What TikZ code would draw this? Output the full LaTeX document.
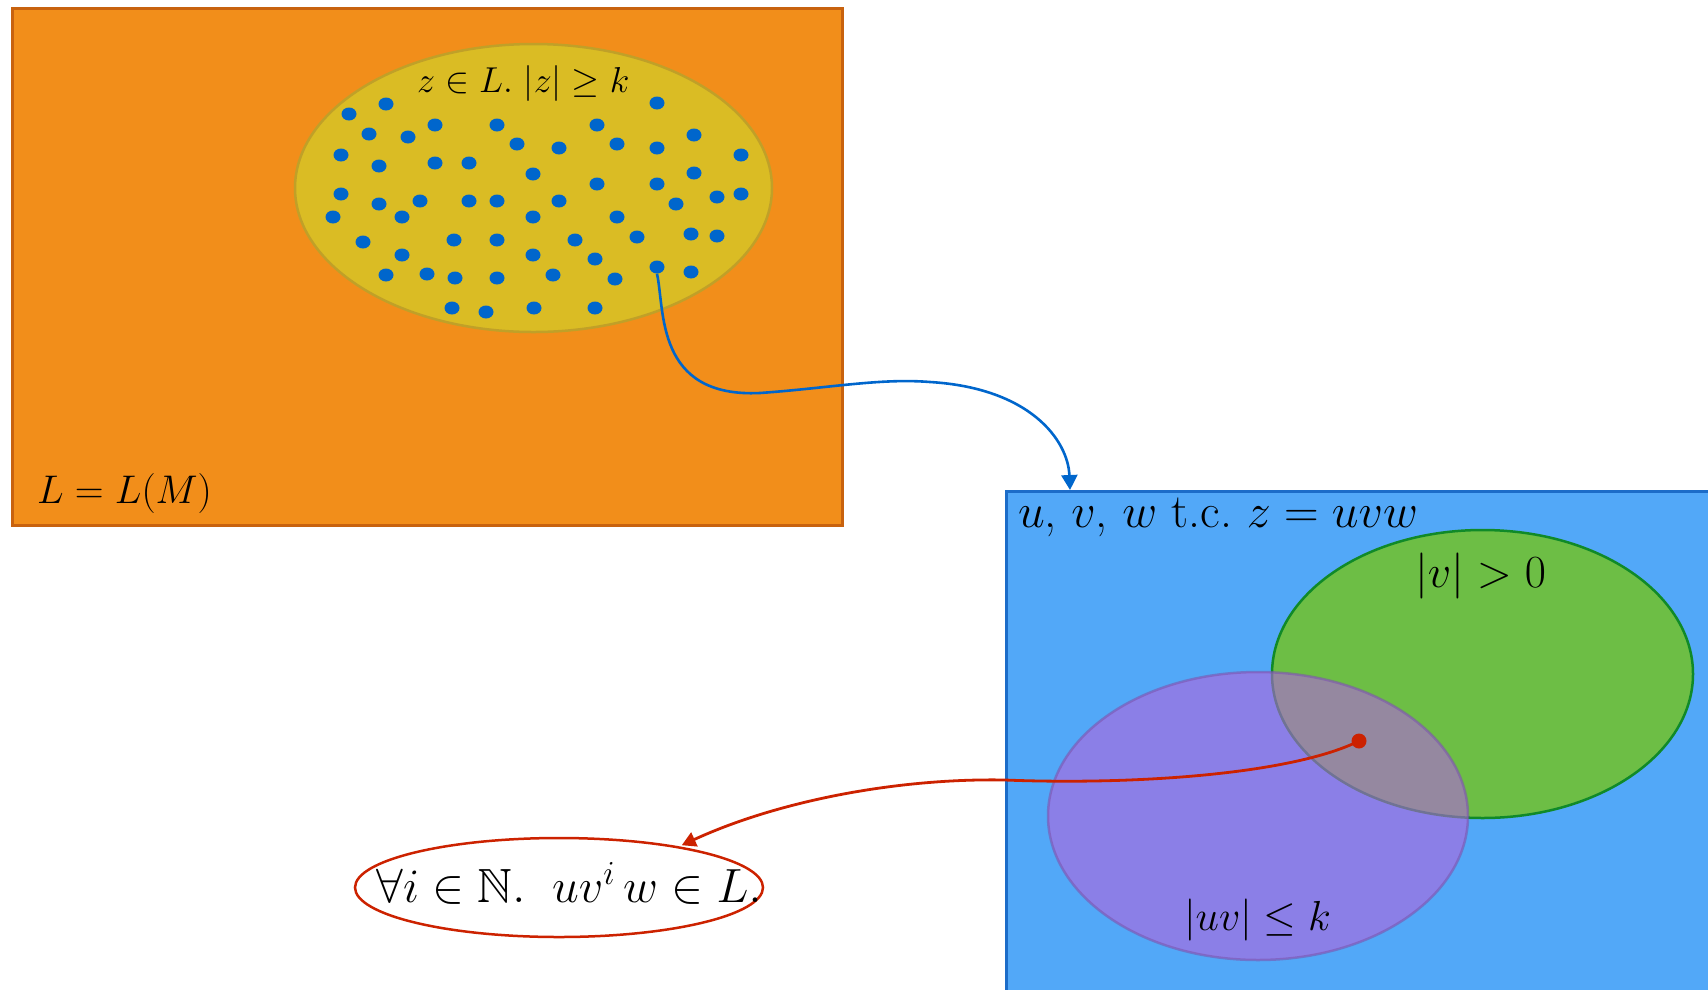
\RequirePackage{fix-cm}
\documentclass[tikz,border=0pt]{standalone}
\usepackage{amsmath,amssymb}
\usetikzlibrary{positioning}
\usetikzlibrary{shapes,arrows.meta,calc}

\definecolor{boxorange}{RGB}{242,142,26}
\definecolor{boxorangeline}{RGB}{200,98,14}
\definecolor{setyellow}{RGB}{218,188,36}
\definecolor{setyellowline}{RGB}{192,160,40}
\definecolor{dotblue}{RGB}{0,102,204}
\definecolor{boxblue}{RGB}{82,168,248}
\definecolor{boxblueline}{RGB}{28,108,200}
\definecolor{vgreen}{RGB}{109,190,69}
\definecolor{vgreenline}{RGB}{16,138,40}
\definecolor{uvpurple}{RGB}{177,101,221}
\definecolor{uvpurpleline}{RGB}{125,85,175}
\definecolor{pumpred}{RGB}{204,34,0}

\begin{document}
\begin{tikzpicture}[x=1pt,y=-1pt,
  langbox/.style={rectangle,draw=boxorangeline,fill=boxorange,line width=3pt,inner sep=0pt},
  setell/.style={ellipse,draw=setyellowline,fill=setyellow,line width=2.5pt,inner sep=0pt},
  worddot/.style={ellipse,fill=dotblue,minimum width=15pt,minimum height=13pt,inner sep=0pt},
  splitbox/.style={rectangle,draw=boxblueline,fill=boxblue,line width=2.5pt,inner sep=0pt},
  vell/.style={ellipse,draw=vgreenline,fill=vgreen,line width=2.5pt,inner sep=0pt},
  uvell/.style={ellipse,draw=uvpurpleline,fill=uvpurple,opacity=0.6,line width=2.5pt,inner sep=0pt},
  goalell/.style={ellipse,draw=pumpred,line width=2.5pt,inner sep=0pt,outer sep=3pt},
  pickdot/.style={circle,fill=pumpred,minimum size=15pt,inner sep=0pt},
  bluearrow/.style={draw=dotblue,line width=2.6pt,-{Triangle[length=15pt,width=16pt]}},
  redarrow/.style={draw=pumpred,line width=2.8pt,-{Triangle[length=14pt,width=15pt]}},
  mathlbl/.style={inner sep=0pt,text=black}]

  \useasboundingbox (0,0) rectangle (1708,989);

  % language box with the long words
  \node[langbox,minimum width=830pt,minimum height=517pt,anchor=north west] (lang) at (11,7) {};
  \node[setell,minimum width=477pt,minimum height=288pt] (zset) at (533.5,188) {};
  \node[mathlbl,anchor=base west,font=\fontsize{36}{42}\selectfont] (zlbl) at (417,92) {$z\in L.\ |z|\geq k$};
  \node[mathlbl,anchor=base west,font=\fontsize{40}{48}\selectfont] (langlbl) at (37,503) {$L=L(M)$};

  \foreach \px/\py [count=\i] in {349/114, 386/104, 369/134, 408/137, 435/125, 497/125,
      597/125, 657/103, 694/135, 517/144, 559/148, 617/144, 657/148, 741/155, 341/155,
      379/166, 435/163, 469/163, 533/174, 694/173, 597/184, 657/184, 341/194, 379/204,
      420/201, 469/201, 497/201, 559/201, 676/204, 717/197, 741/194, 333/217, 402/217,
      533/217, 617/217, 363/242, 454/240, 497/240, 575/240, 637/237, 691/234, 717/236,
      402/255, 533/255, 595/259, 691/272, 386/275, 427/274, 455/278, 497/278, 553/275,
      615/279, 452/308, 486/312, 534/308, 595/308}
    \node[worddot] (w\i) at (\px,\py) {};
  \node[worddot] (zdot) at (657,267) {};

  % decomposition box
  \node[splitbox,minimum width=720pt,minimum height=520pt,anchor=north west] (split) at (1005,490) {};
  \node[mathlbl,anchor=base west,font=\fontsize{48}{58}\selectfont] (splitlbl) at (1018,527) {$u$, $v$, $w$ t.c.\ $z=uvw$};
  \node[vell,minimum width=421pt,minimum height=288pt] (vset) at (1482.5,674) {};
  \node[mathlbl,anchor=base,font=\fontsize{46}{54}\selectfont] (vlbl) at (1480.5,587) {$|v|>0$};
  \node[uvell,minimum width=420pt,minimum height=288pt] (uvset) at (1258,816) {};
  \node[mathlbl,anchor=base,font=\fontsize{42}{50}\selectfont] (uvlbl) at (1257.5,930) {$|uv|\leq k$};
  \node[pickdot] (pick) at (1359,741) {};

  % pumped words
  \node[goalell,minimum width=408pt,minimum height=99pt] (goal) at (559,887.5) {};
  \node[mathlbl,anchor=base,font=\fontsize{48}{58}\selectfont] (goallbl) at (569,902) {$\forall i\in\mathbb{N}.\;\;uv^i\,w\in L.$};

  \draw[bluearrow] (zdot.south) .. controls (665,310) and (655,398) .. (760,393)
    .. controls (830,388) and (880,378) .. (930,382)
    .. controls (1030,388) and (1068,440) .. ([xshift=65pt]split.north west);
  \draw[redarrow] (pick.center) .. controls (1290,775) and (1130,785) .. (1005,780)
    .. controls (900,778) and (780,800) .. (goal.19);
\end{tikzpicture}
\end{document}
